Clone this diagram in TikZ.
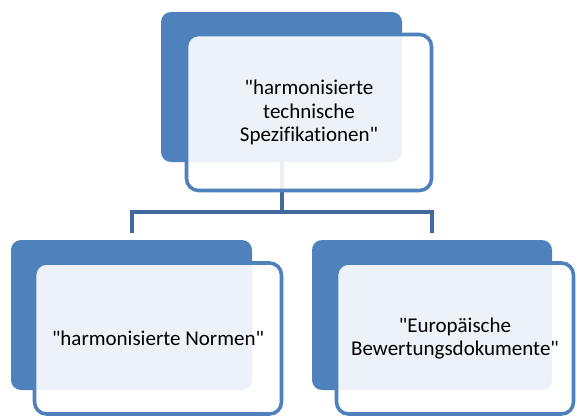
\documentclass[tikz,border=0pt]{standalone}
\usepackage{fontspec}
\setmainfont{Carlito}[Ligatures={TeXOff,NoCommon}]
\usetikzlibrary{backgrounds}
\definecolor{accent}{HTML}{4F81BD}
\definecolor{connc}{HTML}{41699B}
\tikzset{
  backbox/.style={fill=accent, draw=none, rounded corners=10pt, minimum width=241pt, minimum height=150pt, inner sep=0pt},
  frontbox/.style={draw=accent, line width=3.6pt, fill=white, fill opacity=0.9, text opacity=1, rounded corners=12pt, inner sep=0pt, align=center, font=\fontsize{21}{23.5}\selectfont},
  conn/.style={draw=connc, line width=4pt}
}
\begin{document}
\begin{tikzpicture}[x=1pt,y=-1pt]
\useasboundingbox (0,0) rectangle (577,418);
% top
\node[backbox] (topback) at (281.5,87) {};
\node[frontbox, minimum width=245pt, minimum height=156pt] (top) at (309,112.5) {"harmonisierte\\technische\\Spezifikationen"};
% left
\node[backbox] (leftback) at (131.5,315) {};
\node[frontbox, minimum width=247pt, minimum height=151pt] (left) at (158,338.5) {"harmonisierte Normen"};
% right
\node[backbox, minimum width=240pt] (rightback) at (432,315) {};
\node[frontbox, minimum width=237pt, minimum height=151pt] (right) at (455,338.5) {"Europäische\\Bewertungsdokumente"};
\coordinate (hline) at (0,212);
\begin{scope}[on background layer]
\draw[conn] (topback) -- (topback |- hline);
\draw[conn, shorten <=7pt, shorten >=7pt] (leftback.north) |- (topback |- hline) -| (rightback.north);
\end{scope}
\end{tikzpicture}
\end{document}
